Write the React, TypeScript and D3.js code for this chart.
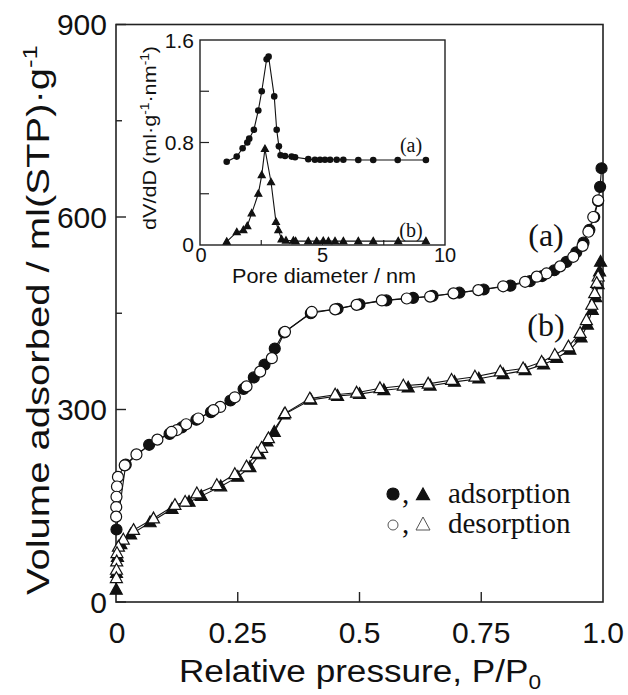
import * as d3 from "d3";

// main isotherm, sample (a) – [P/P0, volume]
const adsA: [number, number][] = [
  [0.001, 113], [0.02, 214], [0.068, 245], [0.11, 262], [0.135, 272], [0.165, 284],
  [0.195, 296], [0.235, 314], [0.262, 332], [0.283, 350], [0.305, 370], [0.326, 395],
  [0.345, 420], [0.4, 450], [0.455, 457], [0.5, 464], [0.555, 470], [0.61, 474],
  [0.65, 477], [0.705, 482], [0.755, 487], [0.81, 493], [0.85, 500], [0.875, 508],
  [0.9, 517], [0.925, 530], [0.945, 545], [0.96, 560], [0.972, 580], [0.982, 600],
  [0.99, 625], [0.994, 647], [0.997, 676],
];
const desA: [number, number][] = [
  [0.99, 626], [0.98, 600], [0.97, 577], [0.958, 555], [0.939, 538], [0.912, 523],
  [0.884, 512], [0.864, 507], [0.84, 499], [0.795, 492], [0.744, 486], [0.693, 481],
  [0.645, 476], [0.597, 473], [0.546, 470], [0.494, 463], [0.45, 456], [0.402, 452],
  [0.347, 421], [0.32, 380], [0.296, 359], [0.268, 336], [0.244, 319], [0.214, 304],
  [0.2, 299], [0.169, 286], [0.144, 277], [0.125, 268], [0.114, 265], [0.085, 253],
  [0.042, 230], [0.018, 213], [0.004, 195], [0.002, 180], [0.001, 164], [0.0005, 148],
  [0.0003, 133],
];
// sample (b)
const adsB: [number, number][] = [
  [0.0005, 19], [0.001, 45], [0.003, 70], [0.01, 90], [0.03, 105], [0.07, 124],
  [0.115, 145], [0.15, 156], [0.175, 165], [0.215, 180], [0.25, 195], [0.275, 210],
  [0.295, 230], [0.31, 250], [0.325, 265], [0.345, 292], [0.4, 315], [0.455, 321],
  [0.5, 324], [0.55, 330], [0.6, 334], [0.645, 337], [0.695, 343], [0.745, 348],
  [0.795, 355], [0.84, 361], [0.878, 370], [0.905, 380], [0.932, 393], [0.955, 412],
  [0.968, 432], [0.978, 455], [0.985, 475], [0.99, 495], [0.993, 515], [0.995, 530],
];
const desB: [number, number][] = [
  [0.99, 507], [0.987, 497], [0.983, 481], [0.977, 463], [0.966, 439], [0.953, 419],
  [0.929, 398], [0.901, 385], [0.874, 374], [0.836, 364], [0.789, 359], [0.737, 351],
  [0.689, 346], [0.641, 340], [0.59, 337], [0.542, 333], [0.494, 326], [0.45, 323],
  [0.398, 317], [0.347, 294], [0.313, 255], [0.299, 240], [0.289, 232], [0.268, 211],
  [0.244, 199], [0.207, 182], [0.166, 169], [0.142, 156], [0.121, 151], [0.077, 130],
  [0.036, 112], [0.015, 97], [0.005, 86], [0.002, 76], [0.0015, 63], [0.001, 50],
  [0.0008, 37],
];

// inset pore size distribution – [diameter nm, dV/dD]
const psdA: [number, number][] = [
  [1.09, 0.65], [1.5, 0.69], [1.74, 0.755], [1.93, 0.8], [2.01, 0.83], [2.2, 0.9],
  [2.38, 1.05], [2.52, 1.2], [2.72, 1.45], [2.8, 1.47], [3.03, 1.16], [3.13, 0.9],
  [3.22, 0.77], [3.29, 0.7], [3.47, 0.695], [3.74, 0.69], [3.88, 0.685], [4.42, 0.67],
  [4.69, 0.665], [4.9, 0.665], [5.1, 0.665], [5.31, 0.665], [5.58, 0.665], [5.85, 0.665],
  [6.46, 0.664], [7.07, 0.664], [8.07, 0.664], [9.22, 0.664],
];
const psdB: [number, number][] = [
  [1.09, 0.026], [1.5, 0.1], [1.77, 0.117], [1.93, 0.148], [2.11, 0.247], [2.38, 0.4],
  [2.52, 0.546], [2.65, 0.75], [2.9, 0.49], [3.1, 0.18], [3.2, 0.117], [3.33, 0.044],
  [3.51, 0.035], [3.81, 0.034], [3.9, 0.03], [4.42, 0.03], [4.76, 0.03], [5.03, 0.032],
  [5.24, 0.03], [5.51, 0.03], [5.85, 0.03], [6.46, 0.03], [7.07, 0.03], [8.09, 0.03],
  [9.22, 0.03],
];

const xTicks = [0, 0.25, 0.5, 0.75, 1.0];
const xTickLabels = ["0", "0.25", "0.5", "0.75", "1.0"];
const yTicks = [0, 300, 600, 900];
const yMinor = [150, 450, 750];
const insetYTicks = [0, 0.4, 0.8, 1.2, 1.6];
const insetYLabels = ["0", "", "0.8", "", "1.6"];
const insetXTicks = [0, 2.5, 5, 7.5, 10];
const insetXLabels = ["0", "", "5", "", "10"];

const sans = "'Liberation Sans', Arial, sans-serif";
const serif = "'Liberation Serif', 'Times New Roman', serif";
const ink = "#222";

function Circle({ cx, cy, r, filled }: { cx: number; cy: number; r: number; filled: boolean }) {
  return <circle cx={cx} cy={cy} r={r} fill={filled ? "#111" : "#fff"} stroke="#111" strokeWidth={1.2} />;
}

function Tri({ cx, cy, s, filled }: { cx: number; cy: number; s: number; filled: boolean }) {
  const h = s * 0.9;
  const d = `M${cx},${cy - h * 0.6}L${cx + s / 2},${cy + h * 0.4}L${cx - s / 2},${cy + h * 0.4}Z`;
  return <path d={d} fill={filled ? "#111" : "#fff"} stroke="#111" strokeWidth={1.2} strokeLinejoin="miter" />;
}

export default function App() {
  const x = d3.scaleLinear().domain([0, 1]).range([116, 603]);
  const y = d3.scaleLinear().domain([0, 900]).range([602, 24.5]);
  const line = d3.line<[number, number]>().x(d => x(d[0])).y(d => y(d[1]));

  const ix = d3.scaleLinear().domain([0, 10]).range([200, 445]);
  const iy = d3.scaleLinear().domain([0, 1.6]).range([245, 40]);
  const iline = d3.line<[number, number]>().x(d => ix(d[0])).y(d => iy(d[1]));

  return (
    <svg width={628} height={695} style={{ position: "absolute", left: 0, top: 0, background: "#fff" }}>
      {/* main frame */}
      <rect x={x(0)} y={y(900)} width={x(1) - x(0)} height={y(0) - y(900)} fill="none" stroke={ink} strokeWidth={1.6} />
      {yTicks.map(t => (
        <g key={"yt" + t}>
          <line x1={x(0)} x2={x(0) + 10} y1={y(t)} y2={y(t)} stroke={ink} strokeWidth={1.4} />
          <text x={107} y={y(t)} dy="0.36em" textAnchor="end" fontFamily={sans} fontSize={30} fill="#111">{t}</text>
        </g>
      ))}
      {yMinor.map(t => (
        <line key={"ym" + t} x1={x(0)} x2={x(0) + 6} y1={y(t)} y2={y(t)} stroke={ink} strokeWidth={1.4} />
      ))}
      {xTicks.map((t, i) => (
        <g key={"xt" + t}>
          {i > 0 && i < xTicks.length - 1 && (
            <line x1={x(t)} x2={x(t)} y1={y(0)} y2={y(0) - 10} stroke={ink} strokeWidth={1.4} />
          )}
          <text x={x(t) + (i === 0 ? 1 : 0)} y={643} textAnchor="middle" fontFamily={sans} fontSize={30} fill="#111">{xTickLabels[i]}</text>
        </g>
      ))}
      <text x={360} y={682} textAnchor="middle" fontFamily={sans} fontSize={31} fill="#111"
        textLength={362} lengthAdjust="spacingAndGlyphs">
        Relative pressure, P/P<tspan dy={7} fontSize={20}>0</tspan>
      </text>
      <text transform="translate(49,320) rotate(-90)" textAnchor="middle" fontFamily={sans} fontSize={31} fill="#111"
        textLength={550} lengthAdjust="spacingAndGlyphs">
        Volume adsorbed / ml(STP)·g<tspan dy={-12} fontSize={20}>-1</tspan>
      </text>

      {/* isotherms */}
      {[adsA, desA, adsB, desB].map((s, i) => (
        <path key={"l" + i} d={line(s) || ""} fill="none" stroke="#111" strokeWidth={1.1} />
      ))}
      {adsA.map((d, i) => <Circle key={"aa" + i} cx={x(d[0])} cy={y(d[1])} r={5.5} filled />)}
      {desA.map((d, i) => <Circle key={"da" + i} cx={x(d[0])} cy={y(d[1])} r={5.5} filled={false} />)}
      {adsB.map((d, i) => <Tri key={"ab" + i} cx={x(d[0])} cy={y(d[1])} s={12} filled />)}
      {desB.map((d, i) => <Tri key={"db" + i} cx={x(d[0])} cy={y(d[1])} s={12} filled={false} />)}

      <text x={546} y={246} textAnchor="middle" fontFamily={serif} fontSize={32} fill="#111">(a)</text>
      <text x={546} y={336} textAnchor="middle" fontFamily={serif} fontSize={32} fill="#111">(b)</text>

      {/* legend */}
      <Circle cx={393} cy={494} r={6} filled />
      <text x={402} y={503} fontFamily={serif} fontSize={29} fill="#111">,</text>
      <Tri cx={423} cy={495} s={13} filled />
      <text x={448} y={503} fontFamily={serif} fontSize={29} fill="#111">adsorption</text>
      <circle cx={393} cy={525} r={5} fill="#fff" stroke="#555" strokeWidth={1} />
      <text x={402} y={533} fontFamily={serif} fontSize={29} fill="#111">,</text>
      <path d="M423,517L430,530L416,530Z" fill="#fff" stroke="#555" strokeWidth={1} />
      <text x={448} y={533} fontFamily={serif} fontSize={29} fill="#111">desorption</text>

      {/* inset */}
      <rect x={ix(0)} y={iy(1.6)} width={ix(10) - ix(0)} height={iy(0) - iy(1.6)} fill="#fff" stroke={ink} strokeWidth={1.4} />
      {insetYTicks.map((t, i) => (
        <g key={"iy" + t}>
          {i > 0 && i < insetYTicks.length - 1 && (
            <line x1={ix(0)} x2={ix(0) + 9} y1={iy(t)} y2={iy(t)} stroke={ink} strokeWidth={1.2} />
          )}
          <text x={194} y={iy(t) + (i === 0 ? -1 : 0)} dy="0.36em" textAnchor="end" fontFamily={sans} fontSize={21} fill="#111">{insetYLabels[i]}</text>
        </g>
      ))}
      {insetXTicks.map((t, i) => (
        <g key={"ix" + t}>
          {i > 0 && i < insetXTicks.length - 1 && (
            <line x1={ix(t)} x2={ix(t)} y1={iy(0)} y2={iy(0) - 5} stroke={ink} strokeWidth={1.2} />
          )}
          <text x={ix(t) + (i === 0 ? 1 : 0)} y={262} textAnchor="middle" fontFamily={sans} fontSize={20} fill="#111">{insetXLabels[i]}</text>
        </g>
      ))}
      <text x={324} y={283} textAnchor="middle" fontFamily={sans} fontSize={21} fill="#111"
        textLength={184} lengthAdjust="spacingAndGlyphs">Pore diameter / nm</text>
      <text transform="translate(156,138) rotate(-90)" textAnchor="middle" fontFamily={sans} fontSize={19} fill="#111"
        textLength={184} lengthAdjust="spacingAndGlyphs">
        dV/dD (ml·g<tspan dy={-7} fontSize={12}>-1</tspan><tspan dy={7}>·nm</tspan><tspan dy={-7} fontSize={12}>-1</tspan><tspan dy={7}>)</tspan>
      </text>
      <path d={iline(psdA) || ""} fill="none" stroke="#111" strokeWidth={1.1} />
      <path d={iline(psdB) || ""} fill="none" stroke="#111" strokeWidth={1.1} />
      {psdA.map((d, i) => <circle key={"pa" + i} cx={ix(d[0])} cy={iy(d[1])} r={3.3} fill="#111" />)}
      {psdB.map((d, i) => <Tri key={"pb" + i} cx={ix(d[0])} cy={iy(d[1])} s={7} filled />)}
      <text x={411} y={152} textAnchor="middle" fontFamily={serif} fontSize={20} fill="#111">(a)</text>
      <text x={411} y={237} textAnchor="middle" fontFamily={serif} fontSize={20} fill="#111">(b)</text>
    </svg>
  );
}
